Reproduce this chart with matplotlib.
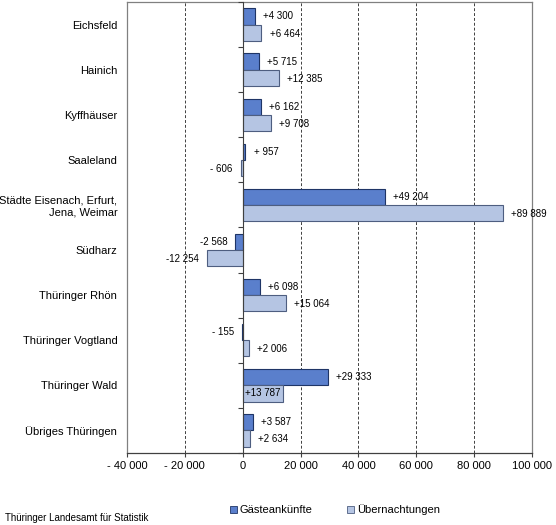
import numpy as np
import matplotlib.pyplot as plt
from matplotlib.patches import Patch
from matplotlib.ticker import FuncFormatter, MultipleLocator, FixedLocator

plt.rcParams['font.family'] = ['Liberation Sans', 'DejaVu Sans']

regions = ["Eichsfeld", "Hainich", "Kyffhäuser", "Saaleland",
           "Städte Eisenach, Erfurt,\nJena, Weimar", "Südharz",
           "Thüringer Rhön", "Thüringer Vogtland", "Thüringer Wald",
           "Übriges Thüringen"]
gaeste = [4300, 5715, 6162, 957, 49204, -2568, 6098, -155, 29333, 3587]
uebern = [6464, 12385, 9708, -606, 89889, -12254, 15064, 2006, 13787, 2634]
series_names = ["Gästeankünfte", "Übernachtungen"]

dark, dark_edge = "#5A7FCC", "#1F3566"
light, light_edge = "#B5C5E3", "#4E5E80"


def grp(v):
    return f"{abs(int(v)):,}".replace(",", " ")


def fmt_label(v):
    s = grp(v)
    if v < 0:
        return "- " + s if abs(v) < 1000 else "-" + s
    return "+ " + s if v < 1000 else "+" + s


def fmt_tick(v, pos):
    if v == 0:
        return "0"
    return ("- " if v < 0 else "") + grp(v)


fig = plt.figure(figsize=(5.56, 5.25), dpi=100)
ax = fig.add_axes([127 / 556, 1 - 453 / 525, 405 / 556, 451 / 525])

y = np.arange(len(regions))
h = 0.36
ax.barh(y - h / 2, gaeste, height=h, color=dark, edgecolor=dark_edge,
        linewidth=0.8, zorder=3)
ax.barh(y + h / 2, uebern, height=h, color=light, edgecolor=light_edge,
        linewidth=0.8, zorder=3)

ax.set_xlim(-40000, 100000)
ax.set_ylim(len(regions) - 0.5, -0.5)

# data labels
off = 2800
for yi, v in zip(y - h / 2, gaeste):
    ha = "left" if v >= 0 else "right"
    ax.text(v + (off if v >= 0 else -off), yi, fmt_label(v), ha=ha,
            va="center", fontsize=7, zorder=4)
for i, (yi, v) in enumerate(zip(y + h / 2, uebern)):
    if regions[i] == "Thüringer Wald":
        ax.text(800, yi, fmt_label(v), ha="left", va="center", fontsize=7,
                zorder=4)
        continue
    ha = "left" if v >= 0 else "right"
    ax.text(v + (off if v >= 0 else -off), yi + 0.02, fmt_label(v), ha=ha,
            va="center", fontsize=7, zorder=4)

# x axis
ax.xaxis.set_major_locator(MultipleLocator(20000))
ax.xaxis.set_major_formatter(FuncFormatter(fmt_tick))
ax.tick_params(axis="x", labelsize=8, length=3, width=0.8, color="#404040",
               pad=3)
ax.grid(axis="x", color="#404040", linestyle=(0, (3, 2)), linewidth=0.7,
        zorder=1)

# y axis labels on the left, no ticks
ax.set_yticks(y)
ax.set_yticklabels(regions, fontsize=8)
ax.tick_params(axis="y", length=0, pad=7)

for side in ["top", "right", "left"]:
    ax.spines[side].set_color("#808080")
    ax.spines[side].set_linewidth(0.9)
ax.spines["bottom"].set_color("#404040")
ax.spines["bottom"].set_linewidth(0.9)

# category axis at zero with ticks between categories
x0, x1 = ax.get_xlim()
sec = ax.secondary_yaxis((0 - x0) / (x1 - x0))
sec.yaxis.set_major_locator(FixedLocator(np.arange(-0.5, len(regions), 1.0)))
sec.set_yticklabels([])
sec.tick_params(axis="y", length=3.5, width=0.8, color="#404040")
sec.spines["left"].set_color("#404040")
sec.spines["left"].set_linewidth(0.8)
sec.set_zorder(5)

handles = [Patch(facecolor=dark, edgecolor=dark_edge, linewidth=0.6),
           Patch(facecolor=light, edgecolor=light_edge, linewidth=0.6)]
fig.legend(handles, series_names, loc="center left",
           bbox_to_anchor=(226 / 556, 1 - 510 / 525), ncol=2, frameon=False,
           fontsize=8, handlelength=0.6, handleheight=0.6,
           handletextpad=0.25, columnspacing=3.1, borderaxespad=0)

fig.text(5 / 556, 1 - 518 / 525, "Thüringer Landesamt für Statistik",
         fontsize=7, ha="left", va="center")

fig.savefig("out.png", dpi=100)
